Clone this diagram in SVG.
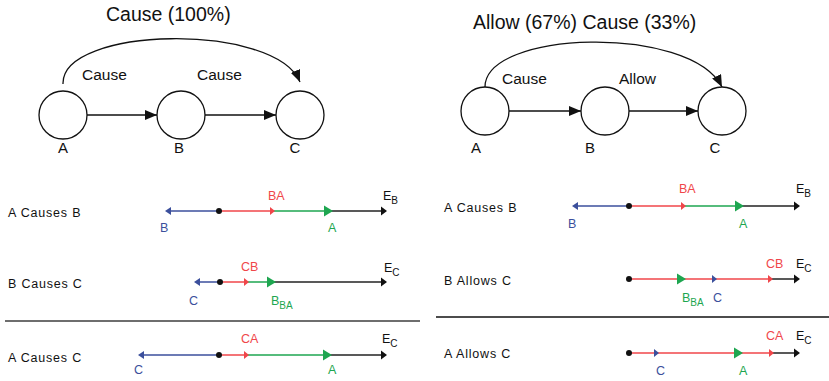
<svg xmlns="http://www.w3.org/2000/svg" xmlns:xlink="http://www.w3.org/1999/xlink" width="829" height="381" viewBox="0 0 829 381">
  <style>
    text { font-family: "Liberation Sans", Arial, sans-serif; fill: #111; }
    .title { font-size: 19.5px; }
    .edge { font-size: 15.5px; }
    .node { font-size: 15px; }
    .row { font-size: 12.5px; letter-spacing: 0.8px; }
    .tl { font-size: 12.5px; }
    .sub { font-size: 10px; }
    .circ { fill: #fff; stroke: #111; stroke-width: 1.3; }
    .conn { fill: none; stroke: #111; stroke-width: 1.3; }
    .blue { fill: #3b4f9c; }
    .red { fill: #f0464a; }
    .green { fill: #1ea650; }
    .blk { fill: #111; }
    .lb { stroke: #3b4f9c; stroke-width: 1.5; }
    .lr { stroke: #f0464a; stroke-width: 1.5; }
    .lg { stroke: #1ea650; stroke-width: 1.5; }
    .lk { stroke: #222; stroke-width: 1.5; }
  </style>
  <defs>
    <marker id="arrow" viewBox="0 0 12 10" refX="12" refY="5" markerWidth="12" markerHeight="10" markerUnits="userSpaceOnUse" orient="auto">
      <path d="M0,0 L12,5 L0,10 Z" fill="#111"/>
    </marker>
    <!-- timeline heads, tip at origin -->
    <path id="hs" d="M0,0 L-5,-4 L-5,4 Z"/>
    <path id="hg" d="M0,0 L-9,-5.5 L-9,5.5 Z"/>
    <path id="hk" d="M0,0 L-6,-4.5 L-6,4.5 Z"/>
    <path id="hl" d="M0,0 L6,-4 L6,4 Z"/>
  </defs>

  <!-- left causal graph -->
  <text class="title" x="106" y="21">Cause (100%)</text>
  <g id="connectors-left">
    <line class="conn" x1="87" y1="115" x2="157" y2="115" marker-end="url(#arrow)"/>
    <line class="conn" x1="205" y1="115" x2="276" y2="115" marker-end="url(#arrow)"/>
    <path class="conn" d="M63,84 C61,26 275,22 300,82" marker-end="url(#arrow)"/>
    <text class="edge" x="82" y="80">Cause</text>
    <text class="edge" x="197" y="80">Cause</text>
  </g>
  <g id="L-A"><circle class="circ" cx="63" cy="115" r="24"/><text class="node" x="63" y="153" text-anchor="middle">A</text></g>
  <g id="L-B"><circle class="circ" cx="181" cy="115" r="24"/><text class="node" x="179" y="153" text-anchor="middle">B</text></g>
  <g id="L-C"><circle class="circ" cx="300" cy="115" r="24"/><text class="node" x="295" y="153" text-anchor="middle">C</text></g>

  <!-- right causal graph -->
  <text class="title" x="473" y="29">Allow (67%) Cause (33%)</text>
  <g id="connectors-right">
    <line class="conn" x1="509" y1="111" x2="581" y2="111" marker-end="url(#arrow)"/>
    <line class="conn" x1="629" y1="111" x2="698" y2="111" marker-end="url(#arrow)"/>
    <path class="conn" d="M485,88 C483,30 690,24 722,87" marker-end="url(#arrow)"/>
    <text class="edge" x="502" y="84">Cause</text>
    <text class="edge" x="619" y="84">Allow</text>
  </g>
  <g id="R-A"><circle class="circ" cx="485" cy="111" r="24"/><text class="node" x="476" y="153" text-anchor="middle">A</text></g>
  <g id="R-B"><circle class="circ" cx="605" cy="111" r="24"/><text class="node" x="590" y="153" text-anchor="middle">B</text></g>
  <g id="R-C"><circle class="circ" cx="722" cy="111" r="24"/><text class="node" x="715" y="153" text-anchor="middle">C</text></g>

  <!-- separators -->
  <line x1="5" y1="321" x2="420" y2="321" stroke="#6e6e6e" stroke-width="2"/>
  <line x1="436" y1="317" x2="829" y2="317" stroke="#111" stroke-width="1.3"/>

  <!-- left timelines -->
  <g id="L-row1">
    <text class="row" x="8" y="216.5">A Causes B</text>
    <line class="lb" x1="167" y1="211" x2="219" y2="211"/>
    <line class="lr" x1="219" y1="211" x2="272" y2="211"/>
    <line class="lg" x1="272" y1="211" x2="326" y2="211"/>
    <line class="lk" x1="326" y1="211" x2="383" y2="211"/>
    <use xlink:href="#hl" x="165" y="211" class="blue"/>
    <use xlink:href="#hs" x="275" y="211" class="red"/>
    <use xlink:href="#hg" x="333" y="211" class="green"/>
    <use xlink:href="#hk" x="387" y="211" class="blk"/>
    <circle cx="219" cy="211" r="3" fill="#111"/>
    <text class="tl red" x="268" y="200">BA</text>
    <text class="tl" x="383" y="200">E<tspan class="sub" dy="4">B</tspan></text>
    <text class="tl blue" x="160" y="232">B</text>
    <text class="tl green" x="328" y="232">A</text>
  </g>
  <g id="L-row2">
    <text class="row" x="8" y="288">B Causes C</text>
    <line class="lb" x1="196" y1="282" x2="220" y2="282"/>
    <line class="lr" x1="220" y1="282" x2="246" y2="282"/>
    <line class="lg" x1="246" y1="282" x2="270" y2="282"/>
    <line class="lk" x1="270" y1="282" x2="383" y2="282"/>
    <use xlink:href="#hl" x="194" y="282" class="blue"/>
    <use xlink:href="#hs" x="249" y="282" class="red"/>
    <use xlink:href="#hg" x="276" y="282" class="green"/>
    <use xlink:href="#hk" x="387" y="282" class="blk"/>
    <circle cx="220" cy="282" r="3" fill="#111"/>
    <text class="tl red" x="241" y="271">CB</text>
    <text class="tl" x="384" y="272">E<tspan class="sub" dy="4">C</tspan></text>
    <text class="tl blue" x="189" y="305">C</text>
    <text class="tl green" x="271" y="305">B<tspan class="sub" dy="4">BA</tspan></text>
  </g>
  <g id="L-row3">
    <text class="row" x="8" y="361.5">A Causes C</text>
    <line class="lb" x1="140" y1="355" x2="219" y2="355"/>
    <line class="lr" x1="219" y1="355" x2="246" y2="355"/>
    <line class="lg" x1="246" y1="355" x2="326" y2="355"/>
    <line class="lk" x1="326" y1="355" x2="383" y2="355"/>
    <use xlink:href="#hl" x="138" y="355" class="blue"/>
    <use xlink:href="#hs" x="249" y="355" class="red"/>
    <use xlink:href="#hg" x="332" y="355" class="green"/>
    <use xlink:href="#hk" x="387" y="355" class="blk"/>
    <circle cx="219" cy="355" r="3" fill="#111"/>
    <text class="tl red" x="241" y="343">CA</text>
    <text class="tl" x="382" y="343">E<tspan class="sub" dy="4">C</tspan></text>
    <text class="tl blue" x="134" y="374">C</text>
    <text class="tl green" x="328" y="374">A</text>
  </g>

  <!-- right timelines -->
  <g id="R-row1">
    <text class="row" x="444" y="212">A Causes B</text>
    <line class="lb" x1="574" y1="206" x2="629" y2="206"/>
    <line class="lr" x1="629" y1="206" x2="683" y2="206"/>
    <line class="lg" x1="683" y1="206" x2="737" y2="206"/>
    <line class="lk" x1="737" y1="206" x2="796" y2="206"/>
    <use xlink:href="#hl" x="572" y="206" class="blue"/>
    <use xlink:href="#hs" x="686" y="206" class="red"/>
    <use xlink:href="#hg" x="744" y="206" class="green"/>
    <use xlink:href="#hk" x="800" y="206" class="blk"/>
    <circle cx="629" cy="206" r="3" fill="#111"/>
    <text class="tl red" x="679" y="193">BA</text>
    <text class="tl" x="796" y="193">E<tspan class="sub" dy="4">B</tspan></text>
    <text class="tl blue" x="568" y="228">B</text>
    <text class="tl green" x="739" y="228">A</text>
  </g>
  <g id="R-row2">
    <text class="row" x="444" y="285">B Allows C</text>
    <line class="lr" x1="629" y1="279" x2="770" y2="279"/>
    <line class="lk" x1="770" y1="279" x2="796" y2="279"/>
    <use xlink:href="#hg" x="686" y="279" class="green"/>
    <use xlink:href="#hs" x="717" y="279" class="blue"/>
    <use xlink:href="#hs" x="773" y="279" class="red"/>
    <use xlink:href="#hk" x="800" y="279" class="blk"/>
    <circle cx="629" cy="279" r="3" fill="#111"/>
    <text class="tl red" x="766" y="268">CB</text>
    <text class="tl" x="796" y="268">E<tspan class="sub" dy="4">C</tspan></text>
    <text class="tl green" x="682" y="302">B<tspan class="sub" dy="4">BA</tspan></text>
    <text class="tl blue" x="713" y="302">C</text>
  </g>
  <g id="R-row3">
    <text class="row" x="444" y="358">A Allows C</text>
    <line class="lr" x1="629" y1="353" x2="771" y2="353"/>
    <line class="lk" x1="771" y1="353" x2="796" y2="353"/>
    <use xlink:href="#hs" x="659" y="353" class="blue"/>
    <use xlink:href="#hg" x="743" y="353" class="green"/>
    <use xlink:href="#hs" x="774" y="353" class="red"/>
    <use xlink:href="#hk" x="800" y="353" class="blk"/>
    <circle cx="629" cy="353" r="3" fill="#111"/>
    <text class="tl red" x="766" y="340">CA</text>
    <text class="tl" x="796" y="340">E<tspan class="sub" dy="4">C</tspan></text>
    <text class="tl blue" x="656" y="375">C</text>
    <text class="tl green" x="739" y="375">A</text>
  </g>
</svg>
